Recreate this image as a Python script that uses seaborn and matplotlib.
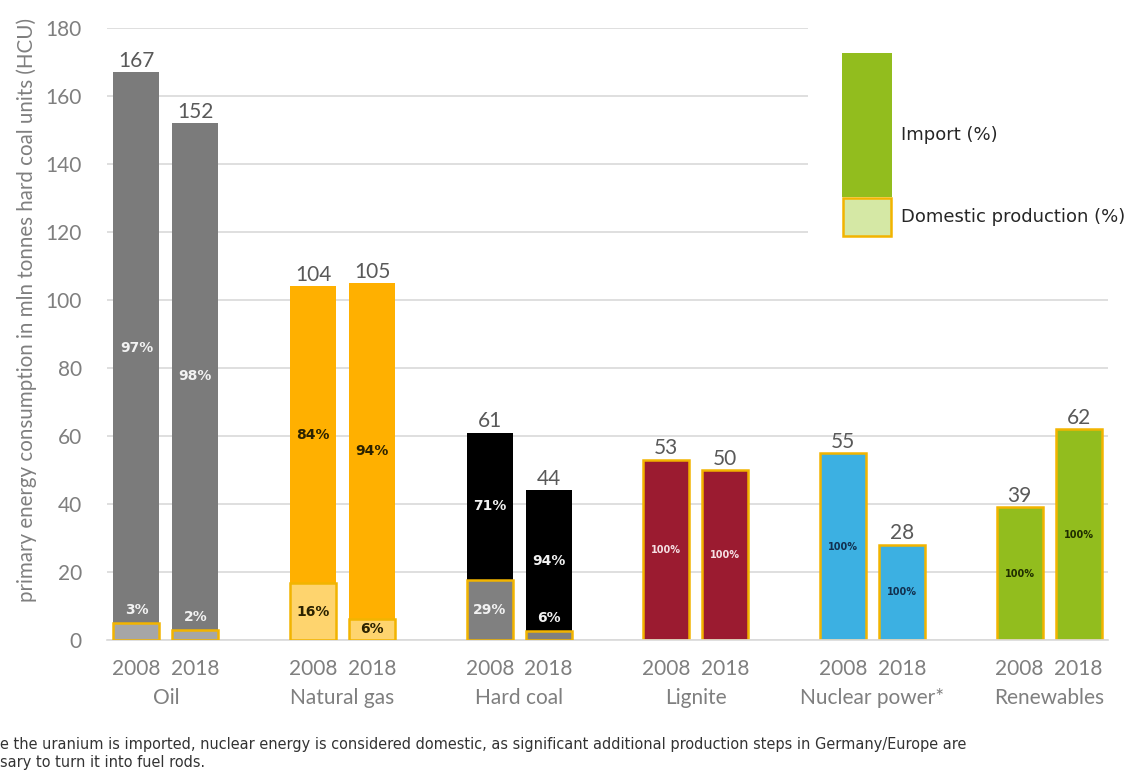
import numpy as np
import pandas as pd
import matplotlib
matplotlib.use("Agg")
import matplotlib.pyplot as plt
import matplotlib.transforms as mtransforms
from matplotlib.patches import Rectangle
import seaborn as sns

# ---------------- data ----------------
groups = ["Oil", "Natural gas", "Hard coal", "Lignite", "Nuclear power*", "Renewables"]
years = ["2008", "2018"]
totals_2008 = [167, 104, 61, 53, 55, 39]
totals_2018 = [152, 105, 44, 50, 28, 62]
import_pct_2008 = [97, 84, 71, 0, 0, 0]
import_pct_2018 = [98, 94, 94, 0, 0, 0]
domestic_pct_2008 = [3, 16, 29, 100, 100, 100]
domestic_pct_2018 = [2, 6, 6, 100, 100, 100]

# ---------------- styles ----------------
import_colors = ["#7b7b7b", "#ffb000", "#000000", "#9b1b30", "#3cb0e2", "#92bd1e"]
domestic_colors = ["#a6a6a6", "#fed46e", "#808080", "#9b1b30", "#3cb0e2", "#92bd1e"]
import_label_colors = ["#f2f2f2", "#2b2200", "#f2f2f2", "#f5e0e4", "#12304f", "#1f2d00"]
domestic_label_colors = ["#f2f2f2", "#2b2200", "#f2f2f2", "#f5e0e4", "#12304f", "#1f2d00"]
edge_orange = "#f2b400"
grid_col = "#d9d9d9"
text_gray = "#595959"
tick_gray = "#7f7f7f"

W, H = 1131, 770

sns.set_theme(style="white")
plt.rcParams["font.family"] = ["Lato", "DejaVu Sans"]

# ---------------- frame ----------------
rows = []
order = []
for gi, g in enumerate(groups):
    for yr, tot, imp, dom in (
        ("2008", totals_2008[gi], import_pct_2008[gi], domestic_pct_2008[gi]),
        ("2018", totals_2018[gi], import_pct_2018[gi], domestic_pct_2018[gi]),
    ):
        slot = f"{g}|{yr}"
        order.append(slot)
        rows.append(dict(slot=slot, group=g, gi=gi, year=yr, total=tot,
                         imp_pct=imp, dom_pct=dom, dom_val=tot * dom / 100.0))
    if gi < len(groups) - 1:
        order.append(f"gap{gi}")
df = pd.DataFrame(rows)

fig = plt.figure(figsize=(W / 100, H / 100), dpi=100)
ax = fig.add_axes([107 / W, 1 - 640 / H, (1108 - 107) / W, (640 - 28) / H])

# total (import colour, full height) bars
pal_total = {r.slot: import_colors[r.gi] for r in df.itertuples()}
n0 = len(ax.patches)
sns.barplot(data=df, x="slot", y="total", hue="slot", order=order, hue_order=list(df.slot),
            palette=pal_total, width=0.78, legend=False, errorbar=None, saturation=1,
            ax=ax, zorder=2)
for p in ax.patches[n0:]:
    idx = int(round(p.get_x() + p.get_width() / 2))
    r = df[df.slot == order[idx]].iloc[0]
    if r.dom_pct >= 100:
        p.set_edgecolor(edge_orange)
        p.set_linewidth(1.8)
    else:
        p.set_linewidth(0)

# domestic part
ddf = df[df.dom_pct < 100]
pal_dom = {r.slot: domestic_colors[r.gi] for r in ddf.itertuples()}
n1 = len(ax.patches)
sns.barplot(data=ddf, x="slot", y="dom_val", hue="slot", order=order, hue_order=list(ddf.slot),
            palette=pal_dom, width=0.78, legend=False, errorbar=None, saturation=1,
            ax=ax, zorder=3)
for p in ax.patches[n1:]:
    p.set_edgecolor(edge_orange)
    p.set_linewidth(1.8)

# ---------------- labels on bars ----------------
for r in df.itertuples():
    x = order.index(r.slot)
    ax.annotate(f"{r.total}", (x, r.total), xytext=(0, 1), textcoords="offset points",
                ha="center", va="bottom", fontsize=15, color=text_gray, zorder=5)
    if r.dom_pct >= 100:
        ax.text(x, r.total / 2, f"{r.dom_pct}%", ha="center", va="center",
                fontsize=7, fontweight="bold", color=import_label_colors[r.gi],
                family="DejaVu Sans", zorder=5)
        continue
    # import share label at centre of import segment
    ax.text(x, r.dom_val + (r.total - r.dom_val) / 2, f"{r.imp_pct}%", ha="center",
            va="center", fontsize=10, fontweight="bold", color=import_label_colors[r.gi],
            family="DejaVu Sans", zorder=5)
    # domestic share label
    if r.dom_val > 6:
        ax.text(x, r.dom_val / 2, f"{r.dom_pct}%", ha="center", va="center",
                fontsize=10, fontweight="bold", color=domestic_label_colors[r.gi],
                family="DejaVu Sans", zorder=5)
    else:
        ax.annotate(f"{r.dom_pct}%", (x, r.dom_val), xytext=(0, 4), textcoords="offset points",
                    ha="center", va="bottom", fontsize=10, fontweight="bold",
                    color="#f2f2f2", family="DejaVu Sans", zorder=5)

# ---------------- axes styling ----------------
ax.set_xlim(-0.5, len(order) - 0.5)
ax.set_ylim(0, 180)
ax.set_yticks(np.arange(0, 181, 20))
ax.yaxis.grid(True, color=grid_col, linewidth=1.2)
ax.set_axisbelow(True)
for s in ("top", "right", "left"):
    ax.spines[s].set_visible(False)
ax.spines["bottom"].set_color(grid_col)
ax.spines["bottom"].set_linewidth(1.2)
ax.tick_params(axis="y", length=0, pad=18, labelsize=15, labelcolor=tick_gray)
ax.set_xticks(range(len(order)))
ax.set_xticklabels([s.split("|")[1] if "|" in s else "" for s in order])
ax.tick_params(axis="x", length=0, pad=14, labelsize=15, labelcolor=tick_gray)
ax.set_xticks(np.arange(-0.5, len(order), 1.0), minor=True)
ax.tick_params(axis="x", which="minor", length=6, color=grid_col, width=1.2)
ax.set_xlabel("")
ax.set_ylabel("")

trans = mtransforms.blended_transform_factory(ax.transData, ax.transAxes)
for gi, g in enumerate(groups):
    ax.text(gi * 3 + 0.5, -0.095, g, transform=trans, ha="center", va="center",
            fontsize=15, color=tick_gray)

fig.text(27 / W, 1 - 310 / H, "primary energy consumption in mln tonnes hard coal units (HCU)",
         rotation=90, ha="center", va="center", fontsize=14.8, color=tick_gray)

# ---------------- legend ----------------
lax = fig.add_axes([808 / W, 1 - 250 / H, (W - 808) / W, (250 - 20) / H], zorder=10)
lax.set_xlim(808, W)
lax.set_ylim(250, 20)
lax.set_axis_off()
lax.add_patch(Rectangle((808, 20), W - 808, 230, facecolor="white", edgecolor="none"))
lax.add_patch(Rectangle((842, 53), 50, 144, facecolor="#92bd1e", edgecolor="none"))
lax.add_patch(Rectangle((843, 198), 48, 38, facecolor="#d5e8a5", edgecolor=edge_orange,
                        linewidth=1.8))
lax.text(901, 135, "Import (%)", ha="left", va="center", fontsize=13, color="#262626",
         family="DejaVu Sans")
lax.text(901, 217, "Domestic production (%)", ha="left", va="center", fontsize=13,
         color="#262626", family="DejaVu Sans")

# ---------------- footnote ----------------
fig.text(0, 1 - 744 / H,
         "e the uranium is imported, nuclear energy is considered domestic, as significant "
         "additional production steps in Germany/Europe are",
         ha="left", va="center", fontsize=11.6, color="#333333",
         family="DejaVu Sans", fontstretch="condensed")
fig.text(0, 1 - 762 / H, "sary to turn it into fuel rods.", ha="left", va="center",
         fontsize=11.6, color="#333333", family="DejaVu Sans", fontstretch="condensed")

fig.savefig("out.png", dpi=100, facecolor="white")
